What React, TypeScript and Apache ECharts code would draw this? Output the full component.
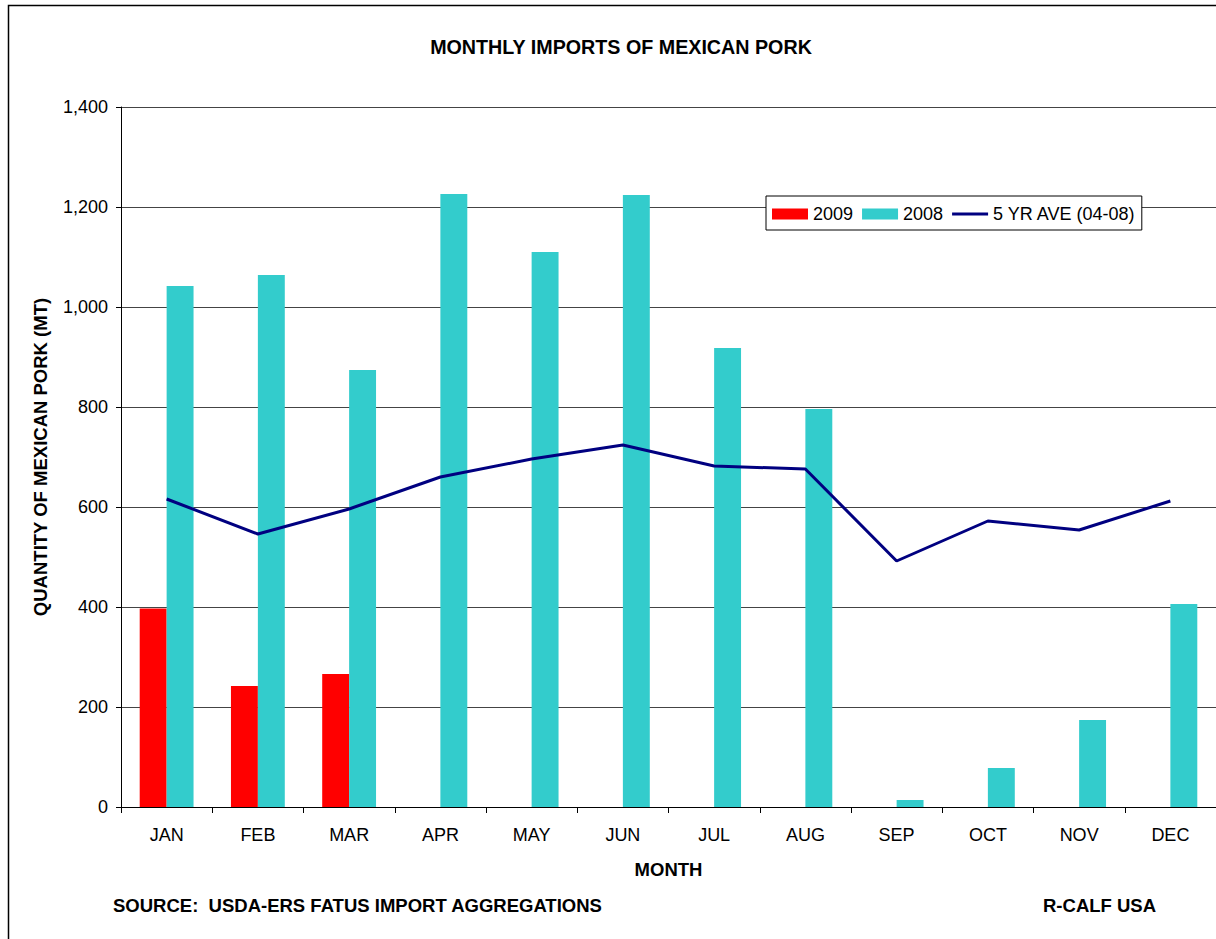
import React, { useEffect, useRef } from "react";
import * as echarts from "echarts";

const months = ["JAN", "FEB", "MAR", "APR", "MAY", "JUN", "JUL", "AUG", "SEP", "OCT", "NOV", "DEC"];
const y2009 = [397, 242, 266, null, null, null, null, null, null, null, null, null];
const y2008 = [1042, 1064, 874, 1226, 1110, 1224, 918, 796, 14, 78, 174, 406];
const avg5yr = [616, 546, 596, 660, 696, 724, 682, 676, 492, 572, 554, 612];

export default function App() {
  const ref = useRef<HTMLDivElement>(null);
  useEffect(() => {
    const chart = echarts.init(ref.current!, null, { renderer: "svg" });
    const font = "Liberation Sans, Arial, sans-serif";
    chart.setOption({
      animation: false,
      textStyle: { fontFamily: font },
      title: {
        text: "MONTHLY IMPORTS OF MEXICAN PORK",
        left: 616,
        top: 32,
        textAlign: "center",
        textStyle: { fontSize: 19.7, fontWeight: "bold", color: "#000", fontFamily: font },
      },
      legend: {
        left: 766,
        top: 196,
        height: 31,
        padding: [9, 6, 7, 6],
        itemGap: 9,
        itemWidth: 36,
        itemHeight: 11,
        backgroundColor: "#fff",
        borderColor: "#000",
        borderWidth: 1,
        textStyle: { fontSize: 18, color: "#000", fontFamily: font },
        data: [
          { name: "2009", icon: "rect" },
          { name: "2008", icon: "rect" },
          { name: "5 YR AVE (04-08)", icon: "path://M0,0M0,11M0,4L36,4L36,7L0,7Z" },
        ],
      },
      grid: { left: 121, top: 107, width: 1101, height: 700, containLabel: false },
      xAxis: {
        type: "category",
        data: months,
        name: "MONTH",
        nameLocation: "middle",
        nameGap: 53,
        nameTextStyle: { fontSize: 18.5, fontWeight: "bold", color: "#000", fontFamily: font },
        axisLine: { lineStyle: { color: "#000", width: 1 } },
        axisTick: { show: true, length: 6, lineStyle: { color: "#000" } },
        axisLabel: { fontSize: 18, color: "#000", margin: 19, fontFamily: font },
        boundaryGap: true,
      },
      yAxis: {
        type: "value",
        min: 0,
        max: 1400,
        interval: 200,
        name: "QUANTITY OF MEXICAN PORK (MT)",
        nameLocation: "middle",
        nameGap: 71,
        nameRotate: 90,
        nameTextStyle: { fontSize: 18.5, fontWeight: "bold", color: "#000", fontFamily: font },
        axisLine: { show: true, lineStyle: { color: "#000", width: 1 } },
        axisTick: { show: true, length: 5, lineStyle: { color: "#000" } },
        axisLabel: {
          fontSize: 18,
          color: "#000",
          margin: 13,
          fontFamily: font,
          formatter: (v: number) => v.toLocaleString("en-US"),
        },
        splitLine: { show: true, lineStyle: { color: "#444", width: 1 } },
      },
      graphic: [
        {
          type: "rect",
          shape: { x: 8.5, y: 5.5, width: 1400, height: 1200 },
          style: { fill: "none", stroke: "#000", lineWidth: 1.5 },
          silent: true,
          z: -10,
        },
        {
          type: "text",
          left: 113,
          top: 896,
          style: {
            text: "SOURCE:  USDA-ERS FATUS IMPORT AGGREGATIONS",
            fontSize: 18.5,
            fontWeight: "bold",
            fill: "#000",
            fontFamily: font,
          },
        },
        {
          type: "text",
          left: 1043,
          top: 896,
          style: {
            text: "R-CALF USA",
            fontSize: 18.5,
            fontWeight: "bold",
            fill: "#000",
            fontFamily: font,
          },
        },
      ],
      series: [
        {
          name: "2009",
          type: "bar",
          data: y2009,
          barGap: "0%",
          barCategoryGap: "41%",
          itemStyle: { color: "#ff0000" },
        },
        {
          name: "2008",
          type: "bar",
          data: y2008,
          itemStyle: { color: "#33cccc" },
        },
        {
          name: "5 YR AVE (04-08)",
          type: "line",
          data: avg5yr,
          symbol: "none",
          lineStyle: { color: "#000080", width: 3 },
          itemStyle: { color: "#000080" },
          z: 5,
        },
      ],
    });
    return () => chart.dispose();
  }, []);
  return (
    <div
      ref={ref}
      style={{ position: "absolute", left: 0, top: 0, width: 1216, height: 939, background: "#fff" }}
    />
  );
}
